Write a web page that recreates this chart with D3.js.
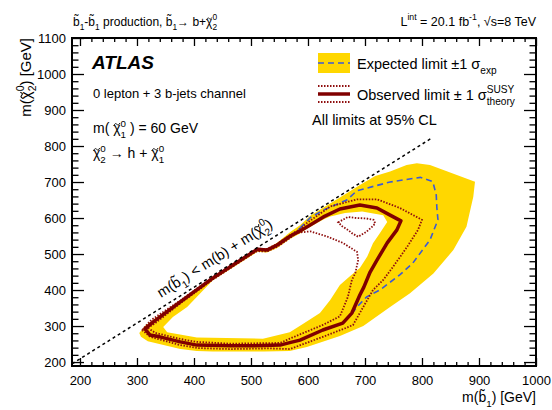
<!DOCTYPE html>
<html><head><meta charset="utf-8">
<script src="https://cdn.jsdelivr.net/npm/d3@7"></script>
<style>
body{margin:0;background:#fff}
svg{display:block}
text{font-family:"Liberation Sans",Arial,Helvetica,sans-serif;fill:#000}
</style>
</head><body>
<svg id="chart" width="552" height="410"></svg>
<script>
// ---------- data ----------
const xTickValues = [200,300,400,500,600,700,800,900,1000];
const yTickValues = [200,300,400,500,600,700,800,900,1000,1100];
const xDomain = [186,1000];
const yDomain = [189,1100];

// kinematic boundary m(b1) = m(b) + m(chi2)
const kinLine = [[186,195],[818,823]];

// expected +-1 sigma band: outer edge and inner edge
const bandOuter = [[304,281],[314,300],[328,317],[376,372],[433,437],[504,508],[511,514],[528,515],[546,531],[569,561],[586,580],[604,606],[627,629],[656,657],[691,692],[718,717],[744,729],[773,747],[791,752],[814,747],[893,701],[890,659],[878,576],[855,511],[820,446],[779,391],[744,353],[697,300],[656,272],[598,242],[568,231],[523,229],[433,229],[405,231],[376,236],[319,258],[307,270]];
const bandInner = [[346,297],[353,283],[405,268],[521,265],[568,283],[591,306],[621,336],[639,372],[656,414],[674,439],[691,461],[704,493],[714,530],[726,558],[739,589],[732,608],[695,618],[665,614],[639,604],[627,596],[598,570],[586,557],[568,542],[546,517],[528,504],[511,506],[504,499],[433,427],[388,353],[363,325]];

// expected limit
const expected = [[586,572],[604,601],[627,622],[668,650],[686,676],[744,700],[797,713],[819,701],[825,664],[826,630],[828,595],[814,539],[784,475],[761,442],[726,400],[703,381],[686,353],[678,336],[661,308],[626,289],[586,261],[568,254],[551,247],[498,245],[463,245],[405,247],[376,256],[340,270],[323,275],[314,292],[328,311],[376,367],[433,433],[504,506],[511,513],[528,511],[546,525],[569,550]];

// observed limit
const observed = [[314,292],[328,311],[376,367],[433,433],[504,506],[511,513],[528,511],[546,525],[569,550],[586,564],[598,575],[627,603],[656,625],[691,636],[721,628],[744,608],[763,592],[756,567],[739,531],[721,483],[709,450],[698,408],[691,386],[677,336],[661,308],[626,289],[586,261],[568,254],[551,247],[498,245],[463,245],[405,247],[376,256],[340,270],[323,275]];

// observed +1 sigma theory
const observedUp = [[309,289],[325,317],[376,371],[433,436],[504,508],[511,515],[528,514],[546,528],[569,553],[586,569],[598,586],[639,632],[686,652],[721,652],[761,628],[800,595],[793,567],[774,520],[749,464],[732,428],[714,400],[697,353],[679,303],[667,295],[626,270],[568,236],[533,238],[463,236],[405,239],[376,247],[323,270]];

// observed -1 sigma theory (main contour and small island)
const observedDown = [[319,295],[332,308],[376,363],[433,429],[504,502],[511,508],[528,507],[546,520],[569,545],[581,559],[604,563],[633,549],[661,531],[686,506],[688,483],[683,447],[677,428],[670,381],[656,327],[626,303],[568,265],[551,253],[463,251],[405,256],[376,264],[332,281]];
const observedDownIsland = [[653,588],[670,603],[685,600],[702,599],[715,595],[718,585],[712,575],[702,561],[688,548],[677,558],[671,566],[660,577]];

// ---------- layout ----------
const svg = d3.select('#chart');
const L = 72, R = 536, T = 38, B = 366;
const x = d3.scaleLinear().domain(xDomain).range([L,R]);
const y = d3.scaleLinear().domain(yDomain).range([B,T]);

const YELLOW = '#ffd700', RED = '#800000', DOT = '#8f0f0f', BLUE = '#3c5ad6';
const FS = 13;

svg.append('defs').append('clipPath').attr('id','plotclip')
  .append('rect').attr('x',L).attr('y',T).attr('width',R-L).attr('height',B-T);

const plot = svg.append('g').attr('clip-path','url(#plotclip)');
const closed = d3.line().x(d=>x(d[0])).y(d=>y(d[1])).curve(d3.curveLinearClosed);
const open = d3.line().x(d=>x(d[0])).y(d=>y(d[1]));

plot.append('path').attr('d', closed(bandOuter) + closed(bandInner))
  .attr('fill', YELLOW).attr('fill-rule','evenodd').attr('stroke','none');

plot.append('path').attr('d', closed(expected)).attr('fill','none')
  .attr('stroke', BLUE).attr('stroke-width',1.6).attr('stroke-dasharray','6,4');

[observedUp, observedDown, observedDownIsland].forEach(c => {
  plot.append('path').attr('d', closed(c)).attr('fill','none')
    .attr('stroke', DOT).attr('stroke-width',1.8).attr('stroke-dasharray','1.5,1.5');
});

plot.append('path').attr('d', closed(observed)).attr('fill','none')
  .attr('stroke', RED).attr('stroke-width',3.5).attr('stroke-linejoin','round');

plot.append('path').attr('d', open(kinLine)).attr('fill','none')
  .attr('stroke','#000').attr('stroke-width',1.5).attr('stroke-dasharray','3,3');

// ---------- axes ----------
const xMinor = d3.range(200, 1001, 20).filter(v => !xTickValues.includes(v));
const yMinor = d3.range(200, 1101, 20).filter(v => !yTickValues.includes(v));

function styleAxis(g){
  g.select('.domain').remove();
  g.selectAll('line').attr('stroke','#000').attr('stroke-width',1.3);
  g.selectAll('text').attr('font-size',FS).attr('fill','#000')
    .attr('font-family','"Liberation Sans",Arial,sans-serif');
}
svg.append('g').attr('transform',`translate(0,${B})`)
  .call(d3.axisBottom(x).tickValues(xTickValues).tickSize(-8).tickPadding(10).tickFormat(d3.format('d'))).call(styleAxis);
svg.append('g').attr('transform',`translate(0,${B})`)
  .call(d3.axisBottom(x).tickValues(xMinor).tickSize(-4).tickFormat('')).call(styleAxis);
svg.append('g').attr('transform',`translate(0,${T})`)
  .call(d3.axisTop(x).tickValues(xTickValues).tickSize(-8).tickFormat('')).call(styleAxis);
svg.append('g').attr('transform',`translate(0,${T})`)
  .call(d3.axisTop(x).tickValues(xMinor).tickSize(-4).tickFormat('')).call(styleAxis);
svg.append('g').attr('transform',`translate(${L},0)`)
  .call(d3.axisLeft(y).tickValues(yTickValues).tickSize(-12).tickPadding(6).tickFormat(d3.format('d'))).call(styleAxis);
svg.append('g').attr('transform',`translate(${L},0)`)
  .call(d3.axisLeft(y).tickValues(yMinor).tickSize(-6.5).tickFormat('')).call(styleAxis);
svg.append('g').attr('transform',`translate(${R},0)`)
  .call(d3.axisRight(y).tickValues(yTickValues).tickSize(-12).tickFormat('')).call(styleAxis);
svg.append('g').attr('transform',`translate(${R},0)`)
  .call(d3.axisRight(y).tickValues(yMinor).tickSize(-6.5).tickFormat('')).call(styleAxis);

svg.append('rect').attr('x',L).attr('y',T).attr('width',R-L).attr('height',B-T)
  .attr('fill','none').attr('stroke','#000').attr('stroke-width',2);

// ---------- rich text helper ----------
// kinds: undefined = normal, 'sup', 'sub', 'chi' (chi with tilde drawn as a small path)
function rich(g, px, py, parts, size, anchor){
  const t = g.append('text').attr('x',px).attr('y',py).attr('font-size',size)
    .attr('text-anchor', anchor || 'start');
  let cur = 0, pending = 0;
  const chis = [];
  const add = (str, target, fs, dx) => {
    const ts = t.append('tspan').text(str).attr('font-size',fs);
    if (target - cur !== 0) ts.attr('dy', target - cur);
    const d = (dx || 0) + pending;
    if (d !== 0) ts.attr('dx', d);
    pending = 0; cur = target;
    return ts;
  };
  parts.forEach(p => {
    const [str, kind, dx] = p;
    if (kind === 'sup') add(str, -0.46*size, 0.7*size, dx);
    else if (kind === 'sub') add(str, 0.34*size, 0.7*size, dx);
    else if (kind === 'chi') chis.push(add('\u03c7', 0, size, dx));
    else add(str, 0, size, dx);
  });
  // tilde accents over chi, drawn as small wave paths
  chis.forEach(ts => {
    const n = ts.node();
    const bb = n.getBBox ? null : null;
    const idx = 0;
    let ext;
    try { ext = n.getExtentOfChar(0); } catch(e) { ext = null; }
    if (!ext) return;
    const cx = ext.x + ext.width/2, top = py - 0.62*size;
    const w = 0.42*size, h = 0.09*size;
    g.append('path')
      .attr('d', `M${cx-w/2},${top+h} C${cx-w/4},${top-h*1.6} ${cx-w/8},${top-h*0.2} ${cx},${top} S${cx+w/4},${top+h*1.6} ${cx+w/2},${top-h}`)
      .attr('fill','none').attr('stroke','#000').attr('stroke-width',Math.max(0.8,0.07*size));
  });
  return t;
}
const dig = s => -0.556*0.7*s;
const TL = '\u0303';

// header
rich(svg, 73, 26, [['b'+TL],['1','sub'],['-b'+TL],['1','sub'],[' production, b'+TL],['1','sub'],['\u2192 b+'],['','chi'],['0','sup'],['2','sub',dig(12)]], 12);
rich(svg, 536, 26, [['L'],['int','sup'],[' = 20.1 fb'],['-1','sup'],[', \u221as=8 TeV']], 12.5, 'end');

// axis titles
rich(svg, 536, 402, [['m(b'+TL],['1','sub'],[') [GeV]']], 14, 'end');
const yt = svg.append('g').attr('transform','translate(31,38) rotate(-90)');
rich(yt, 0, 0, [['m('],['','chi'],['0','sup'],['2','sub',dig(15)],[') [GeV]']], 15, 'end');

// labels in plot
svg.append('text').attr('x',92).attr('y',69).attr('font-size',19)
  .attr('font-weight','bold').attr('font-style','italic').text('ATLAS');
svg.append('text').attr('x',93).attr('y',98).attr('font-size',13).text('0 lepton + 3 b-jets channel');
rich(svg, 93, 133, [['m( '],['','chi'],['0','sup'],['1','sub',dig(14)],[' ) = 60 GeV']], 14);
rich(svg, 93, 158, [['','chi'],['0','sup'],['2','sub',dig(14)],[' \u2192 h + '],['','chi'],['0','sup'],['1','sub',dig(14)]], 14);

// diagonal label
const ang = Math.atan2(y(700)-y(600), x(700)-x(600))*180/Math.PI;
const dg = svg.append('g').attr('transform',`translate(${x(342)},${y(378)}) rotate(${ang})`);
rich(dg, 0, 0, [['m(b'+TL],['1','sub'],[') < m(b) + m('],['','chi'],['0','sup'],['2','sub',dig(14.5)],[')']], 14.5);

// legend
const LF = 14.5;
const lg = svg.append('g');
lg.append('rect').attr('x',318).attr('y',53).attr('width',32).attr('height',20).attr('fill',YELLOW);
lg.append('line').attr('x1',318).attr('x2',350).attr('y1',63).attr('y2',63)
  .attr('stroke',BLUE).attr('stroke-width',1.6).attr('stroke-dasharray','6,4');
rich(lg, 357, 69, [['Expected limit \u00b11 \u03c3'],['exp','sub']], LF);
[86,102].forEach(v => lg.append('line').attr('x1',318).attr('x2',350).attr('y1',v).attr('y2',v)
  .attr('stroke',DOT).attr('stroke-width',1.8).attr('stroke-dasharray','1.5,1.5'));
lg.append('line').attr('x1',318).attr('x2',350).attr('y1',94).attr('y2',94)
  .attr('stroke',RED).attr('stroke-width',3.5);
rich(lg, 357, 100, [['Observed limit \u00b1 1 \u03c3'],['SUSY','sup'],['theory','sub',-0.7*LF*2.72]], LF);
svg.append('text').attr('x',312).attr('y',125).attr('font-size',LF).text('All limits at 95% CL');
</script>
</body></html>
